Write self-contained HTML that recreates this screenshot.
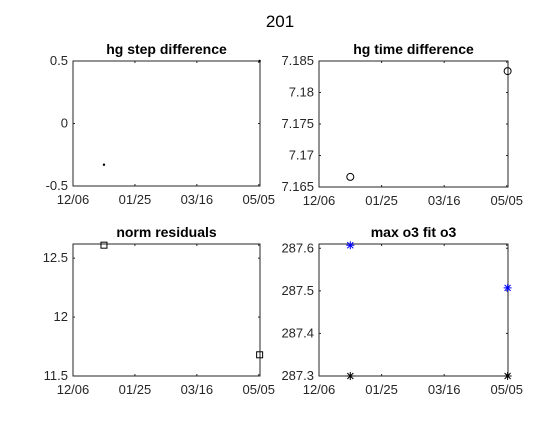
<!DOCTYPE html>
<html><head><meta charset="utf-8"><style>
body{margin:0;background:#fff;width:560px;height:420px;overflow:hidden;font-family:"Liberation Sans",sans-serif}
svg text{font-family:"Liberation Sans",sans-serif}
</style></head><body>
<svg id="fig" width="560" height="420" xmlns="http://www.w3.org/2000/svg">
<text x="280" y="27" text-anchor="middle" font-size="17" fill="#000">201</text>
</svg>
<script>
const xTicks=[0,50,100,150];
const xTickLabels=["12/06","01/25","03/16","05/05"];
const xDays=[25,150.7];
const stepVals=[-0.33,0.5];
const timeVals=[7.1666,7.1834];
const resVals=[12.61,11.68];
const maxO3=[287.607,287.507];
const fitO3=[287.3,287.3];
const yTicksA=[-0.5,0,0.5],yLabA=["-0.5","0","0.5"];
const yTicksB=[7.165,7.17,7.175,7.18,7.185],yLabB=["7.165","7.17","7.175","7.18","7.185"];
const yTicksC=[11.5,12,12.5],yLabC=["11.5","12","12.5"];
const yTicksD=[287.3,287.4,287.5,287.6],yLabD=["287.3","287.4","287.5","287.6"];
const NS="http://www.w3.org/2000/svg";
const svg=document.getElementById('fig');
function mk(t,a,p){const e=document.createElementNS(NS,t);for(const k in a)e.setAttribute(k,a[k]);(p||svg).appendChild(e);return e;}
function panel(name,title,box,ylim,yt,yl,series){
 const g=mk('g',{});
 
 
 const [L,T,R,B]=box,xmin=0,xmax=151;
 const sx=v=>L+(v-xmin)/(xmax-xmin)*(R-L);
 const sy=v=>B-(v-ylim[0])/(ylim[1]-ylim[0])*(B-T);
 const fr=mk('rect',{x:L,y:T,width:R-L,height:B-T,fill:'#fff',stroke:'#262626','stroke-width':1},g);
 
 
 xTicks.forEach((v,i)=>{const x=sx(v);
  mk('line',{x1:x,x2:x,y1:B,y2:B-2,stroke:'#262626'},g);
  mk('line',{x1:x,x2:x,y1:T,y2:T+2,stroke:'#262626'},g);
  const t=mk('text',{x:x,y:B+18,'text-anchor':'middle','font-size':'13',fill:'#262626'},g);
  
  
  t.textContent=xTickLabels[i];});
 yt.forEach((v,i)=>{const y=sy(v);
  mk('line',{x1:L,x2:L+2,y1:y,y2:y,stroke:'#262626'},g);
  mk('line',{x1:R,x2:R-2,y1:y,y2:y,stroke:'#262626'},g);
  const t=mk('text',{x:L-5,y:y+4,'text-anchor':'end','font-size':'13',fill:'#262626'},g);
  
  
  t.textContent=yl[i];});
 const tt=mk('text',{x:(L+R)/2,y:T-7,'text-anchor':'middle','font-size':'14','font-weight':'bold',fill:'#000'},g);
 
 
 tt.textContent=title;
 series.forEach(s=>{xDays.forEach((d,i)=>{const x=sx(d),y=sy(s.vals[i]);let m;
  if(s.m==='dot')m=mk('circle',{cx:x,cy:y,r:1.2,fill:s.c},g);
  else if(s.m==='o')m=mk('circle',{cx:x,cy:y,r:3.5,fill:'none',stroke:s.c},g);
  else if(s.m==='s')m=mk('rect',{x:x-3,y:y-3,width:6,height:6,fill:'none',stroke:s.c},g);
  else{m=mk('path',{d:`M${x-4} ${y}H${x+4}M${x} ${y-4}V${y+4}M${x-3} ${y-3}L${x+3} ${y+3}M${x-3} ${y+3}L${x+3} ${y-3}`,stroke:s.c,'stroke-width':1},g);}
  
  
 });});
}
panel('hg-step-difference-plot','hg step difference',[73,61,260,186],[-0.5,0.5],yTicksA,yLabA,[{vals:stepVals,m:'dot',c:'#000'}]);
panel('hg-time-difference-plot','hg time difference',[319,61,508,187],[7.165,7.185],yTicksB,yLabB,[{vals:timeVals,m:'o',c:'#000'}]);
panel('norm-residuals-plot','norm residuals',[73,244,260,376],[11.5,12.62],yTicksC,yLabC,[{vals:resVals,m:'s',c:'#000'}]);
panel('max-o3-fit-o3-plot','max o3 fit o3',[319,244,508,376],[287.3,287.61],yTicksD,yLabD,[{vals:maxO3,m:'*',c:'#0000ff'},{vals:fitO3,m:'*',c:'#000'}]);
</script>
</body></html>
